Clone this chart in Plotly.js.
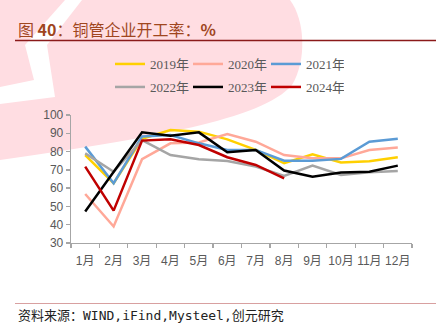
<!DOCTYPE html>
<html>
<head>
<meta charset="utf-8">
<script src="https://cdn.plot.ly/plotly-3.0.1.min.js"></script>
<style>
html,body{margin:0;padding:0;background:#fff;}
#wrap{position:relative;width:436px;height:323px;overflow:hidden;}
#bg{position:absolute;left:0;top:0;}
#chart{position:absolute;left:0;top:0;width:436px;height:323px;}
</style>
</head>
<body>
<div id="wrap">
<svg id="bg" width="436" height="323">
  <path d="M0 0 L290 0 C305 20 307 60 292 85 C262 120 150 138 0 160 Z" fill="rgb(255,221,226)"/>
  <path d="M65 0 L82 0 L47 45 L55 97 L0 104 L0 87 L34 80 L25 45 Z" fill="#fff"/>
</svg>
<div id="chart"></div>
</div>
<script>
const months = ['1月','2月','3月','4月','5月','6月','7月','8月','9月','10月','11月','12月'];
const v2019 = [78, 62.7, 87, 91.8, 90.9, 86.7, 80.9, 73.6, 78.5, 74, 74.7, 76.9];
const v2020 = [56.8, 39, 75.8, 84.5, 85, 89.6, 85.4, 78.1, 76.3, 76.3, 80.9, 82.2];
const v2021 = [82.7, 62.7, 88.2, 89, 84.5, 80.9, 80.9, 75, 75, 76, 85.4, 87];
const v2022 = [79, 69, 86.3, 78.1, 75.8, 74.9, 71.8, 66.7, 72.3, 67.2, 68.7, 69.4];
const v2023 = [47.2, 69, 90.5, 88.7, 90.5, 79.6, 80.9, 69.6, 66.3, 68.5, 69, 72.3];
const v2024 = [71.8, 47.7, 86, 86.7, 83.6, 76.9, 72.7, 65.4];
const seriesNames = ['2019年','2020年','2021年','2022年','2023年','2024年'];
const seriesColors = ['#FFD000','#FFA898','#5B9BD5','#A5A5A5','#000000','#C00000'];
const seriesValues = [v2019, v2020, v2021, v2022, v2023, v2024];
const titleText = '图 <b>40</b>：铜管企业开工率：<b>%</b>';
const sourceText = '资料来源：WIND,iFind,Mysteel,创元研究';

const L = 71, R = 412, T = 115, B = 243, W = 436, H = 323;
const px = x => (x - L) / (R - L);
const py = y => (B - y) / (B - T);

const traces = seriesValues.map((vals, i) => ({
  type: 'scatter', mode: 'lines',
  x: months.slice(0, vals.length), y: vals,
  name: seriesNames[i],
  line: {color: seriesColors[i], width: 2.5},
  legend: i < 3 ? 'legend' : 'legend2'
}));

const legendFont = {family: '"Liberation Serif", "Noto Sans CJK SC", serif', size: 13, color: '#595959'};
const legendBase = {orientation: 'h', xanchor: 'left', yanchor: 'middle', bgcolor: 'rgba(0,0,0,0)',
  font: legendFont, entrywidth: 33, entrywidthmode: 'pixels', traceorder: 'normal'};
const layout = {
  width: W, height: H,
  margin: {l: L, r: W - R, t: T, b: H - B, pad: 0},
  paper_bgcolor: 'rgba(0,0,0,0)', plot_bgcolor: 'rgba(0,0,0,0)',
  showlegend: true,
  legend: Object.assign({x: px(110), y: py(64)}, legendBase),
  legend2: Object.assign({x: px(110), y: py(87)}, legendBase),
  xaxis: {
    type: 'category', categoryarray: months, categoryorder: 'array',
    range: [-0.5, 11.5], showgrid: false, zeroline: false,
    showline: true, linecolor: '#A6A6A6', linewidth: 1.3,
    ticks: 'outside', tickson: 'boundaries', ticklen: 4, tickcolor: '#A6A6A6', tickwidth: 1.3,
    ticklabelstandoff: 6, tickangle: 0,
    tickfont: {family: '"Liberation Sans", Arial, "Noto Sans CJK SC", sans-serif', size: 12, color: '#595959'}
  },
  yaxis: {
    range: [30, 100], dtick: 10, tick0: 30, showgrid: false, zeroline: false,
    showline: true, linecolor: '#A6A6A6', linewidth: 1.3,
    ticks: 'outside', ticklen: 4, tickcolor: '#A6A6A6', tickwidth: 1.3,
    tickfont: {family: '"Liberation Sans", Arial, sans-serif', size: 12, color: '#595959'}
  },
  shapes: [
    {type: 'line', xref: 'paper', yref: 'paper', x0: px(15), x1: px(436), y0: py(40.5), y1: py(40.5),
     line: {color: '#8B1A1A', width: 1.5}},
    {type: 'line', xref: 'paper', yref: 'paper', x0: px(15), x1: px(436), y0: py(303.5), y1: py(303.5),
     line: {color: '#D8A0A0', width: 1}}
  ],
  annotations: [
    {text: titleText, xref: 'paper', yref: 'paper', x: px(16), y: py(29), xanchor: 'left', yanchor: 'middle',
     showarrow: false, font: {family: '"Noto Sans CJK SC", sans-serif', size: 16, color: '#A0461E'}},
    {text: sourceText, xref: 'paper', yref: 'paper', x: px(16), y: py(315), xanchor: 'left', yanchor: 'middle',
     showarrow: false, font: {family: '"DejaVu Sans Mono", "Noto Sans CJK SC", monospace', size: 13, color: '#222222'}}
  ]
};
Plotly.newPlot('chart', traces, layout, {displayModeBar: false, staticPlot: true});
</script>
</body>
</html>
